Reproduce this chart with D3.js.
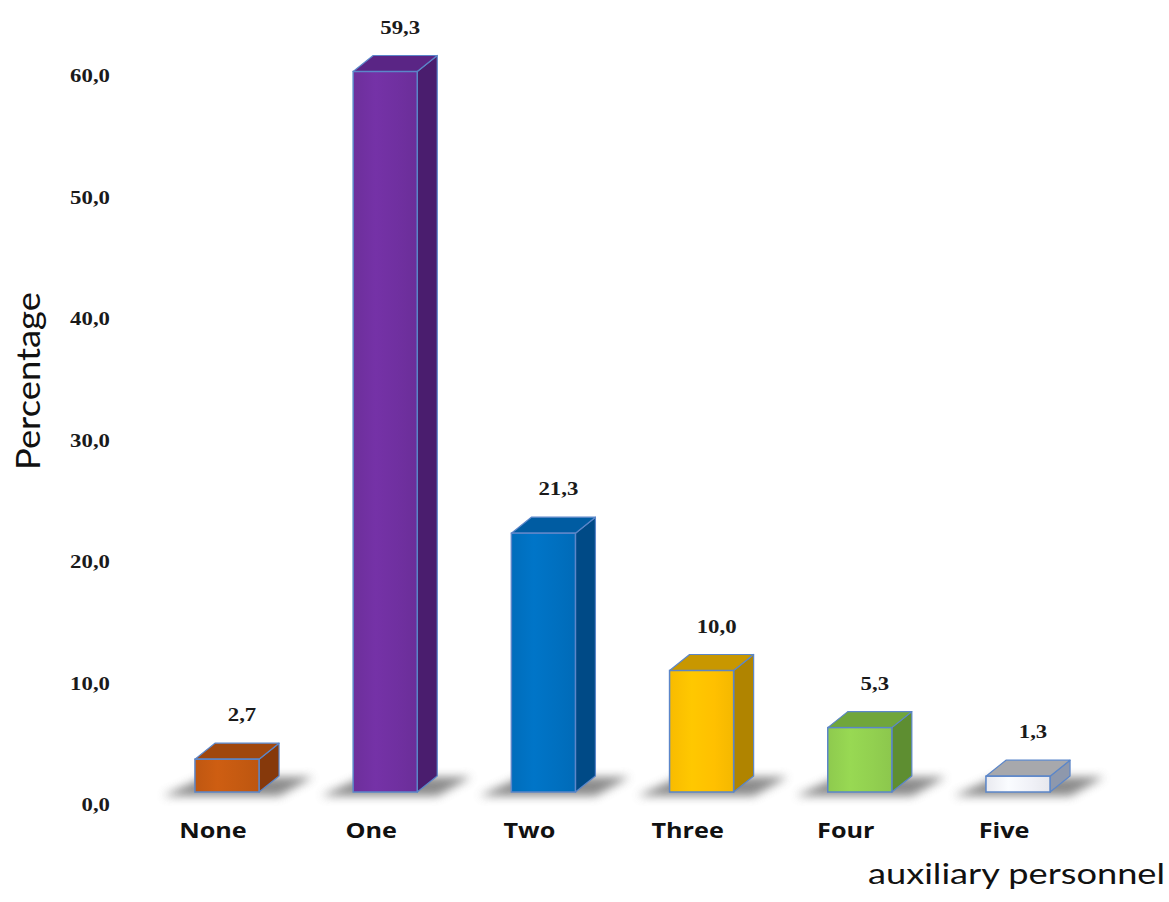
<!DOCTYPE html>
<html>
<head>
<meta charset="utf-8">
<script src="https://cdn.jsdelivr.net/npm/d3@7/dist/d3.min.js"></script>
<style>
  html, body { margin: 0; padding: 0; background: #ffffff; }
  svg { display: block; }
</style>
</head>
<body>
<script>
// Share of respondents by number of auxiliary personnel
const categories = ["None", "One", "Two", "Three", "Four", "Five"];
const percentages = [2.7, 59.3, 21.3, 10.0, 5.3, 1.3];
const tickValues = [0, 10, 20, 30, 40, 50, 60];

// Face colours per bar: front, top, side
const frontColors = ["#C55A11", "#7030A0", "#0070C0", "#FFC000", "#92D050", "#F0F1F7"];
const topColors   = ["#A0470E", "#5A2585", "#005CA2", "#C89700", "#70A63B", "#A7A8AC"];
const sideColors  = ["#86390B", "#4A1D6E", "#004A86", "#B08400", "#5E8E31", "#8E98AC"];

const W = 1169, H = 902;
const depthX = 20, depthY = 16;

const svg = d3.select("body").append("svg")
  .attr("width", W).attr("height", H);

const defs = svg.append("defs");
defs.append("filter").attr("id", "floorShadow")
  .attr("x", "-50%").attr("y", "-200%").attr("width", "200%").attr("height", "500%")
  .append("feGaussianBlur").attr("stdDeviation", 5);

// Subtle sheen across each front face
frontColors.forEach((c, i) => {
  const g = defs.append("linearGradient").attr("id", "front" + i)
    .attr("x1", "0%").attr("x2", "100%").attr("y1", "0%").attr("y2", "0%");
  const base = d3.color(c);
  g.append("stop").attr("offset", "0%").attr("stop-color", base.darker(0.08));
  g.append("stop").attr("offset", "35%").attr("stop-color", base.brighter(0.12));
  g.append("stop").attr("offset", "70%").attr("stop-color", base);
  g.append("stop").attr("offset", "100%").attr("stop-color", base.darker(0.12));
});

const x = d3.scaleBand()
  .domain(categories)
  .range([147.5, 1097.5])
  .paddingInner(0.595)
  .paddingOuter(0.3);

const y = d3.scaleLinear()
  .domain([0, 60])
  .range([792, 63]);

const locale = d3.formatLocale({ decimal: ",", thousands: ".", grouping: [3], currency: ["", ""] });
const fmt = locale.format(".1f");

// Y axis labels (no line, no ticks)
const yAxis = d3.axisLeft(y)
  .tickValues(tickValues)
  .tickFormat(fmt)
  .tickSize(0)
  .tickPadding(0);

const axisG = svg.append("g")
  .attr("transform", "translate(110,12.5)")
  .call(yAxis);
axisG.select(".domain").remove();
axisG.selectAll("text")
  .attr("font-family", "'Liberation Serif', 'Times New Roman', serif")
  .attr("font-weight", "bold")
  .attr("font-size", 19)
  .attr("fill", "#1a1a1a")
  .attr("transform", "scale(1.2,1)");

const bw = x.bandwidth();
const y0 = y(0);

// Floor shadows
svg.append("g").selectAll("polygon")
  .data(categories)
  .join("polygon")
  .attr("points", d => {
    const x0 = x(d);
    return [
      [x0 - 32, y0 + 4],
      [x0 + bw + 20, y0 + 4],
      [x0 + bw + depthX + 34, y0 - depthY + 1],
      [x0 + depthX - 10, y0 - depthY + 1]
    ].map(p => p.join(",")).join(" ");
  })
  .attr("fill", "#6e6e6e")
  .attr("opacity", 0.8)
  .attr("filter", "url(#floorShadow)");

const bars = svg.append("g").selectAll("g.bar")
  .data(categories.map((c, i) => ({ c, v: percentages[i], i })))
  .join("g").attr("class", "bar");

const edge = "#5B86C9";

// Side face
bars.append("polygon")
  .attr("points", d => {
    const xr = x(d.c) + bw, yt = y(d.v);
    return [[xr, yt], [xr + depthX, yt - depthY], [xr + depthX, y0 - depthY], [xr, y0]]
      .map(p => p.join(",")).join(" ");
  })
  .attr("fill", d => sideColors[d.i])
  .attr("stroke", edge).attr("stroke-width", 1.2).attr("stroke-linejoin", "round");

// Top face
bars.append("polygon")
  .attr("points", d => {
    const xl = x(d.c), yt = y(d.v);
    return [[xl, yt], [xl + depthX, yt - depthY], [xl + bw + depthX, yt - depthY], [xl + bw, yt]]
      .map(p => p.join(",")).join(" ");
  })
  .attr("fill", d => topColors[d.i])
  .attr("stroke", edge).attr("stroke-width", 1.2).attr("stroke-linejoin", "round");

// Front face
bars.append("rect")
  .attr("x", d => x(d.c))
  .attr("y", d => y(d.v))
  .attr("width", bw)
  .attr("height", d => y0 - y(d.v))
  .attr("fill", d => `url(#front${d.i})`)
  .attr("stroke", edge).attr("stroke-width", 1.5);

// Value labels above each bar
svg.append("g").selectAll("g")
  .data(categories.map((c, i) => ({ c, v: percentages[i] })))
  .join("g")
  .attr("transform", d => `translate(${x(d.c) + bw / 2 + depthX / 2 + 5},${y(d.v) - depthY - 22}) scale(1.2,1)`)
  .append("text")
  .attr("text-anchor", "middle")
  .attr("font-family", "'Liberation Serif', 'Times New Roman', serif")
  .attr("font-weight", "bold")
  .attr("font-size", 19)
  .attr("fill", "#1a1a1a")
  .text(d => fmt(d.v));

// Category labels
svg.append("g").selectAll("g")
  .data(categories)
  .join("g")
  .attr("transform", d => `translate(${x(d) + bw / 2 - 14},838) scale(1.2,1)`)
  .append("text")
  .attr("text-anchor", "middle")
  .attr("font-family", "'Open Sans', 'Noto Sans', sans-serif")
  .attr("font-weight", "bold")
  .attr("font-size", 21)
  .attr("fill", "#111")
  .text(d => d);

// Axis titles
svg.append("text")
  .attr("transform", "translate(40,381) rotate(-90)")
  .attr("text-anchor", "middle")
  .attr("font-family", "Lato, 'Open Sans', sans-serif")
  .attr("font-size", 33)
  .attr("fill", "#111")
  .attr("textLength", 178)
  .attr("lengthAdjust", "spacingAndGlyphs")
  .text("Percentage");

svg.append("text")
  .attr("x", 868)
  .attr("y", 884)
  .attr("font-family", "Lato, 'Open Sans', sans-serif")
  .attr("font-size", 28)
  .attr("fill", "#111")
  .attr("textLength", 297)
  .attr("lengthAdjust", "spacingAndGlyphs")
  .text("auxiliary personnel");
</script>
</body>
</html>
